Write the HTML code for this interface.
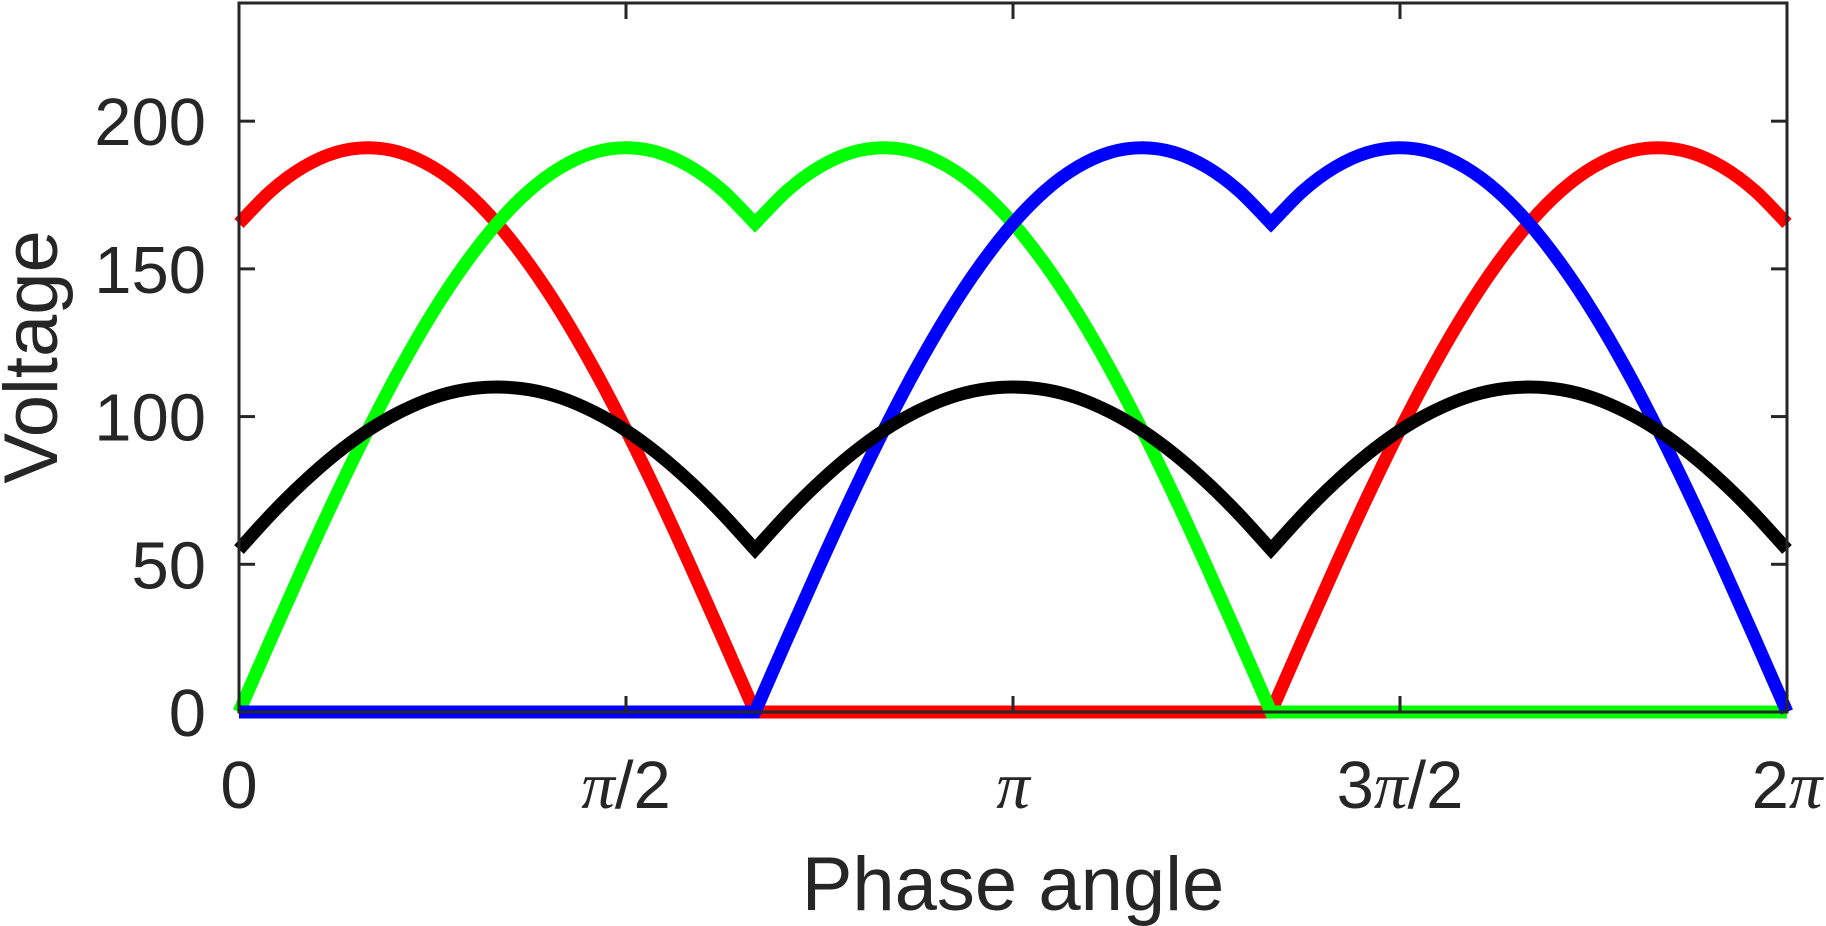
<!DOCTYPE html>
<html><head><meta charset="utf-8"><style>
html,body{margin:0;padding:0;background:#fff}
svg{display:block}
text{fill:#262626}
</style></head><body>
<svg id="chart" width="1826" height="926" viewBox="0 0 1826 926" xmlns="http://www.w3.org/2000/svg">
<g id="series"></g>
<g id="axes"></g>
</svg>
<script>
// phase angle in degrees, 7.5 degree steps from 0 to 360
const angleStepDeg = 7.5;
const redValues = [165.4,176.5,184.5,189.4,191,189.4,184.5,176.5,165.4,151.5,135.1,116.3,95.5,73.1,49.4,24.9,0,
 0,0,0,0,0,0,0,0,0,0,0,0,0,0,0,
 0,24.9,49.4,73.1,95.5,116.3,135.1,151.5,165.4,176.5,184.5,189.4,191,189.4,184.5,176.5,165.4];
const greenValues = [0,24.9,49.4,73.1,95.5,116.3,135.1,151.5,165.4,176.5,184.5,189.4,191,189.4,184.5,176.5,165.4,
 176.5,184.5,189.4,191,189.4,184.5,176.5,165.4,151.5,135.1,116.3,95.5,73.1,49.4,24.9,0,
 0,0,0,0,0,0,0,0,0,0,0,0,0,0,0,0];
const blueValues = [0,0,0,0,0,0,0,0,0,0,0,0,0,0,0,0,
 0,24.9,49.4,73.1,95.5,116.3,135.1,151.5,165.4,176.5,184.5,189.4,191,189.4,184.5,176.5,165.4,
 176.5,184.5,189.4,191,189.4,184.5,176.5,165.4,151.5,135.1,116.3,95.5,73.1,49.4,24.9,0];
const blackValues = [55,67,77.8,87.3,95.3,101.6,106.3,109.1,110,109.1,106.3,101.6,95.3,87.3,77.8,67,
 55,67,77.8,87.3,95.3,101.6,106.3,109.1,110,109.1,106.3,101.6,95.3,87.3,77.8,67,
 55,67,77.8,87.3,95.3,101.6,106.3,109.1,110,109.1,106.3,101.6,95.3,87.3,77.8,67,55];
const yTicks = [0,50,100,150,200];
const xTickDeg = [0,90,180,270,360];
const xTickLabels = ["0","π/2","π","3π/2","2π"];

const L=239,R=1787,T=3,B=712;
const X0=0,X1=360,Y0=0,Y1=240;
const sx=d=>L+(d-X0)/(X1-X0)*(R-L);
const sy=v=>B-(v-Y0)/(Y1-Y0)*(B-T);
const NS="http://www.w3.org/2000/svg";
const series=document.getElementById('series');
const axes=document.getElementById('axes');
function mk(tag,attrs,parent){const e=document.createElementNS(NS,tag);for(const k in attrs)e.setAttribute(k,attrs[k]);parent.appendChild(e);return e;}

// cubic path with smooth peaks and sharp corners at valleys / flat joins
function smoothPath(xs,ys,vals){
  const n=xs.length,d=[];
  for(let i=0;i<n-1;i++)d.push((ys[i+1]-ys[i])/(xs[i+1]-xs[i]));
  const dv=[];for(let i=0;i<n-1;i++)dv.push(vals[i+1]-vals[i]);
  const corner=i=>{
    if(i===0||i===n-1)return true;
    const a=dv[i-1],b=dv[i];
    if(a<0&&b>0)return true;
    if((a===0)!==(b===0))return true;
    return false;
  };
  const tan=(i,side)=>{
    if(i===0)return d[0];
    if(i===n-1)return d[n-2];
    if(corner(i))return side==='out'?d[i]:d[i-1];
    return (d[i-1]+d[i])/2;
  };
  let p="M"+xs[0].toFixed(2)+","+ys[0].toFixed(2);
  for(let i=0;i<n-1;i++){
    const h=(xs[i+1]-xs[i])/3,m0=tan(i,'out'),m1=tan(i+1,'in');
    p+=" C"+(xs[i]+h).toFixed(2)+","+(ys[i]+m0*h).toFixed(2)+" "+(xs[i+1]-h).toFixed(2)+","+(ys[i+1]-m1*h).toFixed(2)+" "+xs[i+1].toFixed(2)+","+ys[i+1].toFixed(2);
  }
  return p;
}

const defs=[["red",redValues,"#ff0000"],["green",greenValues,"#00ff00"],["blue",blueValues,"#0000ff"],["black",blackValues,"#000000"]];
defs.forEach(([name,vals,col])=>{
  const xs=vals.map((v,i)=>sx(i*angleStepDeg));
  const ys=vals.map(v=>sy(v));
  const p=mk('path',{d:smoothPath(xs,ys,vals),fill:"none",stroke:col,"stroke-width":13,"stroke-linejoin":"miter","stroke-miterlimit":2},series);
  
  
});

const box=mk('rect',{x:L,y:T,width:R-L,height:B-T,fill:"none",stroke:"#262626","stroke-width":3},axes);


yTicks.forEach(v=>{
  const y=sy(v);
  const t1=mk('line',{x1:L,x2:L+16,y1:y,y2:y,stroke:"#262626","stroke-width":3},axes);
  
  
  const t2=mk('line',{x1:R,x2:R-16,y1:y,y2:y,stroke:"#262626","stroke-width":3},axes);
  
  
  const tx=mk('text',{x:206,y:y+24,"text-anchor":"end","font-family":"Liberation Sans, sans-serif","font-size":67},axes);
  tx.textContent=v;
  
  
});
xTickDeg.forEach((d,i)=>{
  const x=sx(d);
  const t1=mk('line',{x1:x,x2:x,y1:B,y2:B-16,stroke:"#262626","stroke-width":3},axes);
  
  
  const t2=mk('line',{x1:x,x2:x,y1:T,y2:T+16,stroke:"#262626","stroke-width":3},axes);
  
  
  const tx=mk('text',{x:x,y:808,"text-anchor":"middle","font-family":"Liberation Sans, sans-serif","font-size":67},axes);
  const lab=xTickLabels[i];
  lab.split(/(π)/).forEach(part=>{
    if(!part)return;
    const ts=mk('tspan',{},tx);
    if(part==="π"){ts.setAttribute('font-family','Liberation Serif, serif');ts.setAttribute('font-style','italic');}
    ts.textContent=part;
  });
  
  
});
const xt=mk('text',{x:(L+R)/2,y:910,"text-anchor":"middle","font-family":"Liberation Sans, sans-serif","font-size":76},axes);
xt.textContent="Phase angle";


const yt=mk('text',{x:0,y:0,"text-anchor":"middle","font-family":"Liberation Sans, sans-serif","font-size":76,transform:"translate(57,357) rotate(-90)"},axes);
yt.textContent="Voltage";


</script>
</body></html>
